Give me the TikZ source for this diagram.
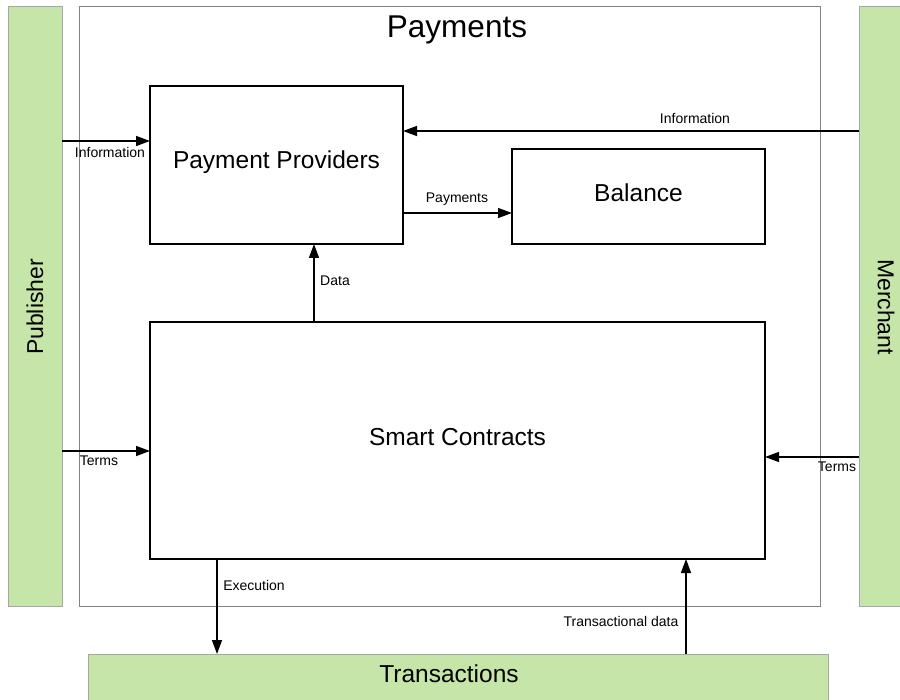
\documentclass[tikz,border=0pt]{standalone}
\usepackage{fontspec}
\setmainfont{Liberation Sans}
\usetikzlibrary{arrows.meta}
\definecolor{actorgreen}{RGB}{197,230,168}
\definecolor{framegray}{RGB}{130,130,130}
\tikzset{
  actor/.style={draw=framegray!70, line width=1pt, fill=actorgreen},
  frame/.style={draw=framegray, line width=1pt},
  block/.style={draw=black, line width=1.6pt, fill=white},
  flow/.style={line width=1.4pt, -{Triangle[length=14pt,width=10pt]}},
  lbl/.style={font=\fontsize{14}{16}\selectfont, inner sep=0pt},
  big/.style={font=\fontsize{24.5}{28}\selectfont, inner sep=0pt},
  side/.style={font=\fontsize{23}{27}\selectfont, inner sep=0pt}
}
\begin{document}
\begin{tikzpicture}[x=1pt, y=-1pt]
\useasboundingbox (0,0) rectangle (900,700);
\clip (0,0) rectangle (900,700);

% outer actors and container
\draw[actor] (8,7) rectangle (62,606);
\node[side, rotate=90] (pub) at (35,307) {Publisher};
\draw[actor] (859,7) rectangle (915,606);
\node[side, rotate=-90] (mer) at (886,307) {Merchant};
\draw[frame] (79,7) rectangle (820,606);
\node[font=\fontsize{31.5}{35}\selectfont, inner sep=0pt] (title) at (457,30) {Payments};
\draw[actor] (88,654) rectangle (828,715);
\node[big] (tx) at (449,674) {Transactions};

% inner blocks
\draw[block] (150,86) rectangle (403,244);
\node[big] (pp) at (276.5,162) {Payment Providers};
\draw[block] (512,149) rectangle (765,244);
\node[big] (bal) at (638.5,193) {Balance};
\draw[block] (150,322) rectangle (765,559);
\node[big] (sc) at (457.5,437) {Smart Contracts};

% anchor points of connectors
\coordinate (pubInfo) at (62,141);
\coordinate (ppInfoL) at (150,141);
\coordinate (merInfo) at (859,131);
\coordinate (ppInfoR) at (403,131);
\coordinate (ppPay) at (403,213);
\coordinate (balPay) at (512,213);
\coordinate (scData) at (314,322);
\coordinate (ppData) at (314,244);
\coordinate (pubTerms) at (62,451);
\coordinate (scTermsL) at (150,451);
\coordinate (merTerms) at (859,457);
\coordinate (scTermsR) at (765,457);
\coordinate (scExec) at (217,559);
\coordinate (txExec) at (217,654);
\coordinate (txData) at (686,654);
\coordinate (scTx) at (686,559);

% connectors
\draw[flow] (pubInfo) -- (ppInfoL);
\draw[flow] (merInfo) -- (ppInfoR);
\draw[flow] (ppPay) -- (balPay);
\draw[flow] (scData) -- (ppData);
\draw[flow] (pubTerms) -- (scTermsL);
\draw[flow] (merTerms) -- (scTermsR);
\draw[flow] (scExec) -- (txExec);
\draw[flow] (txData) -- (scTx);

% connector labels
\node[lbl] (l1) at (110,152) {Information};
\node[lbl] (l2) at (695,118) {Information};
\node[lbl] (l3) at (457,199) {Payments};
\node[lbl] (l4) at (335,281) {Data};
\node[lbl] (l5) at (99,461) {Terms};
\node[lbl] (l6) at (837,467) {Terms};
\node[lbl] (l7) at (254,585) {Execution};
\node[lbl] (l8) at (621,621) {Transactional data};
\end{tikzpicture}
\end{document}
